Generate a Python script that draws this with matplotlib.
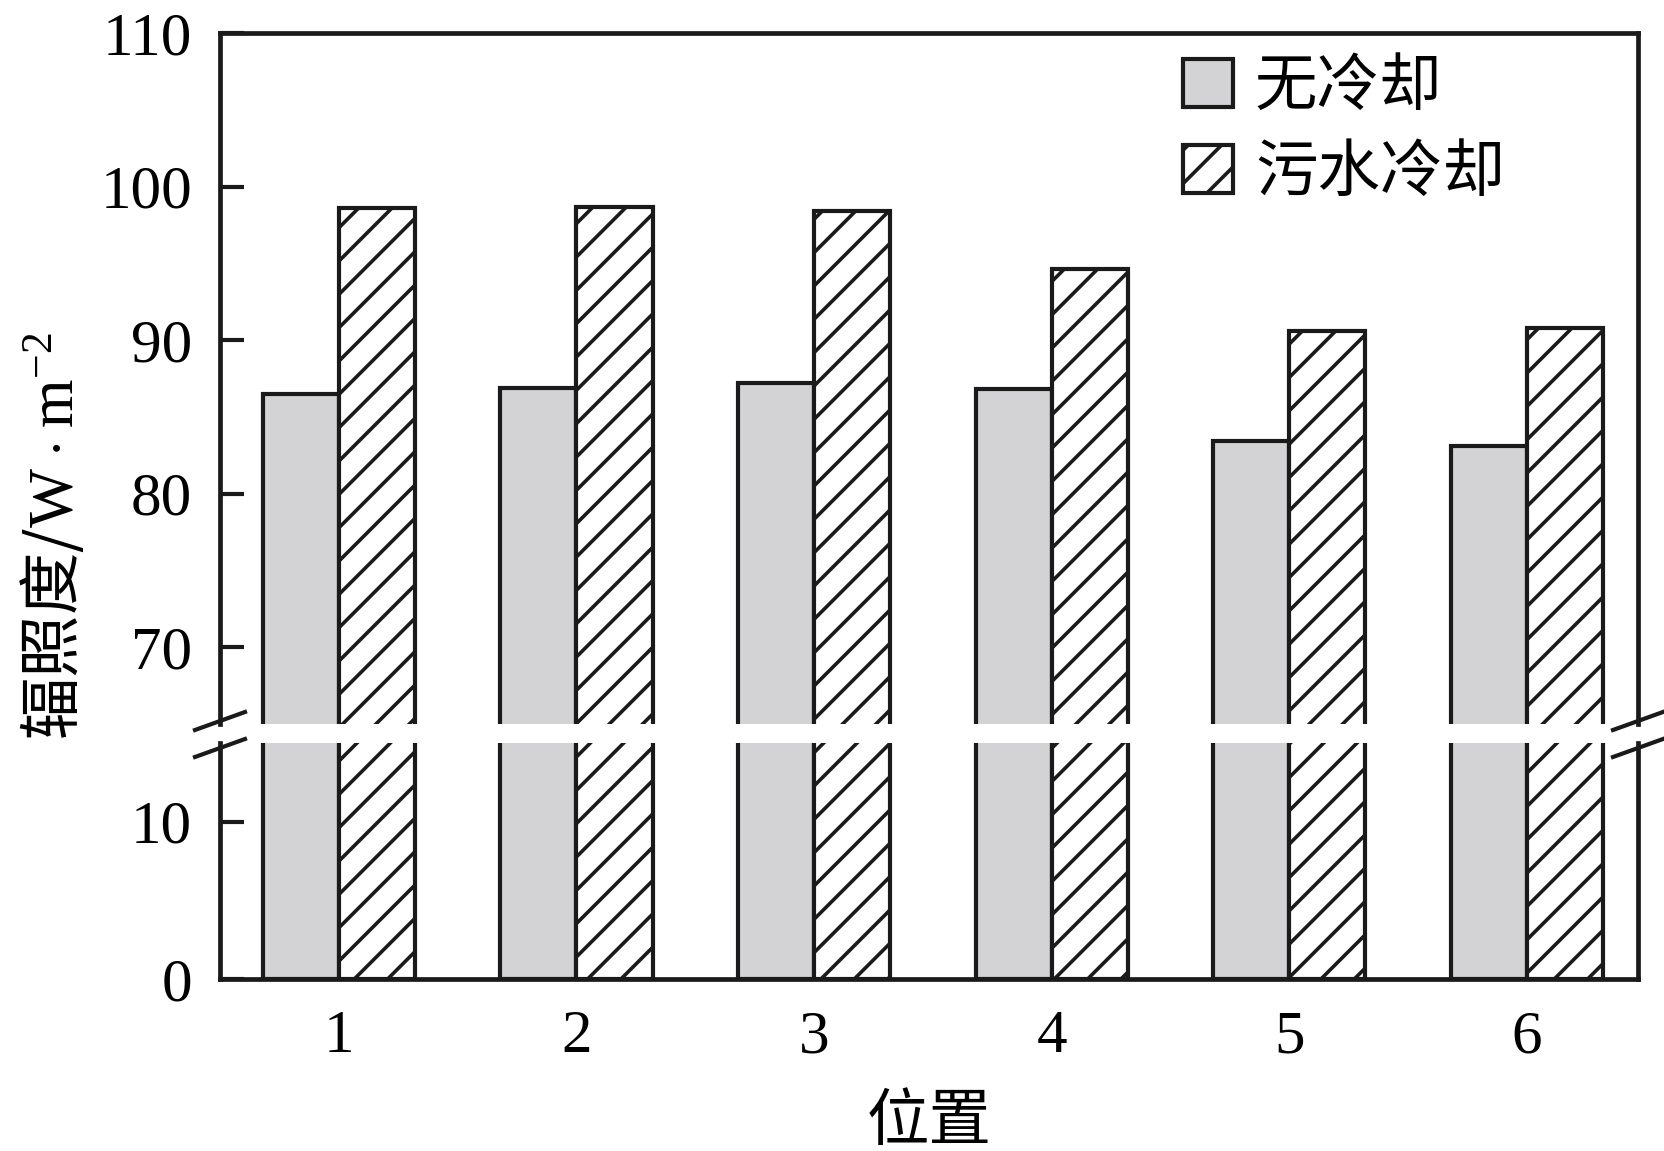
import numpy as np
import matplotlib
matplotlib.use('Agg')
import matplotlib.pyplot as plt

plt.rcParams['font.family'] = ['Liberation Serif', 'Noto Sans CJK SC']
plt.rcParams['mathtext.fontset'] = 'custom'
plt.rcParams['mathtext.rm'] = 'Liberation Serif'
plt.rcParams['hatch.linewidth'] = 1.3
plt.rcParams['hatch.color'] = '#1a1a1a'

positions = [1, 2, 3, 4, 5, 6]
no_cooling = [86.5, 86.9, 87.2, 86.8, 83.4, 83.1]
sewage_cooling = [98.6, 98.65, 98.4, 94.6, 90.6, 90.8]
labels = ['无冷却', '污水冷却']

top_ticks = [70, 80, 90, 100, 110]
bottom_ticks = [0, 10]

gray = '#d3d2d4'
ink = '#1a1a1a'
w = 0.32
lw = 1.5

fig = plt.figure(figsize=(8.32, 5.755), dpi=200)
L, R = 220 / 1664, 1638 / 1664
ax_top = fig.add_axes([L, 1 - 724 / 1151, R - L, (724 - 33) / 1151])
ax_bot = fig.add_axes([L, 1 - 979 / 1151, R - L, (979 - 743) / 1151])

x = np.array(positions)
for ax in (ax_top, ax_bot):
    ax.bar(x - w / 2, no_cooling, w, color=gray, edgecolor=ink, linewidth=lw, label=labels[0])
    ax.bar(x + w / 2, sewage_cooling, w, color='white', edgecolor=ink, linewidth=lw,
           hatch='//', label=labels[1])
    ax.set_xlim(0.5, 6.467)
    for sp in ax.spines.values():
        sp.set_linewidth(1.7)
        sp.set_color(ink)
    ax.tick_params(axis='y', direction='in', length=8.5, width=1.5, pad=10,
                   labelsize=22, color=ink)
    ax.tick_params(axis='x', length=0, pad=11, labelsize=22)

ax_top.set_ylim(65, 110)
ax_top.set_yticks(top_ticks)
ax_top.spines['bottom'].set_visible(False)
ax_top.set_xticks([])

ax_bot.set_ylim(0, 15)
ax_bot.set_yticks(bottom_ticks)
ax_bot.spines['top'].set_visible(False)
ax_bot.set_xticks(positions)
ax_bot.set_xticklabels([str(p) for p in positions])
ax_bot.set_xlabel('位置', fontsize=22.5, labelpad=9, family='Noto Sans CJK SC')

fig.text(0.032, 0.534, '辐照度/$\\mathrm{W\\cdot m^{-2}}$', rotation=90,
         ha='center', va='center', fontsize=22.5, family='Noto Sans CJK SC')

# break marks
dx = 25 / 1418
for xs in (0, 1):
    h = 691
    ax_top.plot([xs - dx, xs + dx], [(-9 + 3) / h, (9 + 3) / h], transform=ax_top.transAxes,
                color=ink, lw=1.5, clip_on=False)
    h = 236
    ax_bot.plot([xs - dx, xs + dx], [1 - (5 + 9) / h, 1 - (5 - 9) / h], transform=ax_bot.transAxes,
                color=ink, lw=1.5, clip_on=False)

ax_top.legend(loc='upper left', bbox_to_anchor=((1183 - 220) / 1418, 0.962),
              frameon=False, fontsize=22.5, borderpad=0, borderaxespad=0,
              handlelength=0.8, handleheight=0.8, handletextpad=0.35,
              labelspacing=0.42)

fig.savefig('out.png', dpi=200)
